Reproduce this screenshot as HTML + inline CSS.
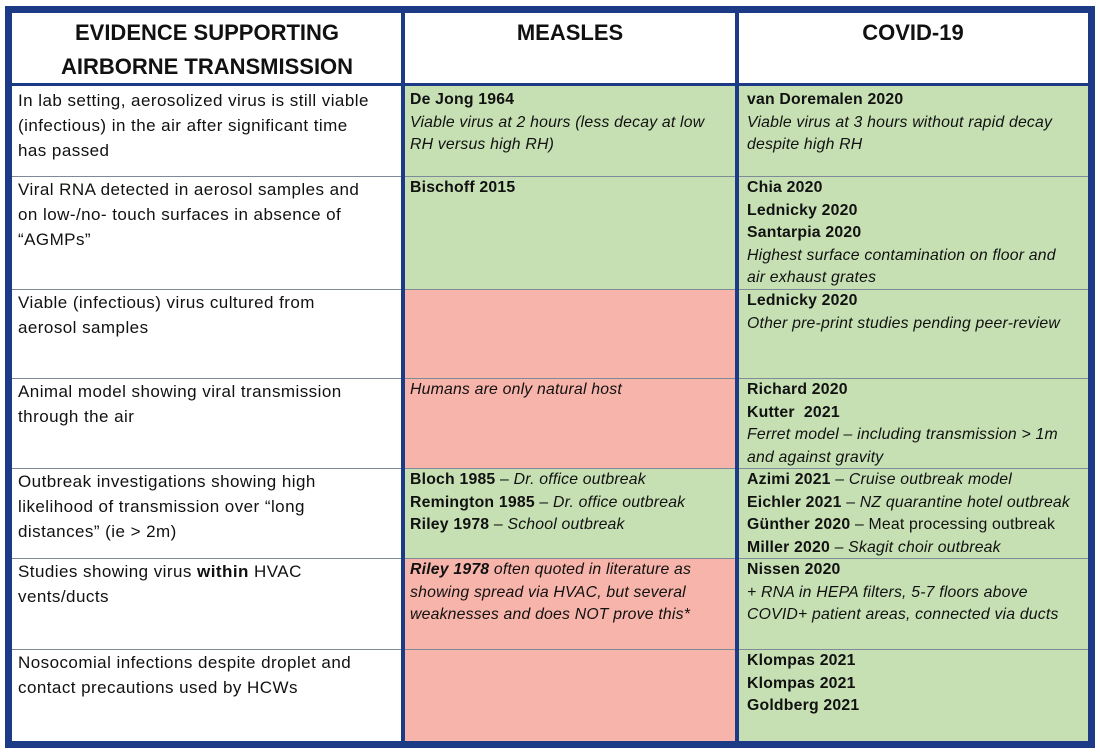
<!DOCTYPE html>
<html><head><meta charset="utf-8"><style>
html,body{margin:0;padding:0;background:#fff;}
body{width:1100px;height:754px;position:relative;overflow:hidden;font-family:"Liberation Sans",sans-serif;color:#111;}
.frame{position:absolute;left:5px;top:6px;width:1090px;height:742px;background:#1c3a86;}
.inner{position:absolute;left:12px;top:13px;width:1076px;height:728px;background:#fff;}
.cell{position:absolute;box-sizing:border-box;font-size:15.8px;letter-spacing:0.2px;line-height:22.5px;white-space:nowrap;padding:0 6px;}
.g{background:#c6e0b4;}
.r{background:#f7b4aa;}
.hd{position:absolute;font-weight:bold;font-size:22px;line-height:34px;text-align:center;white-space:nowrap;}
.vl{position:absolute;width:4px;background:#1c3a86;}
.hl{position:absolute;height:1px;background:#7f8a99;left:12px;width:1076px;}
i{font-style:italic;} b{font-weight:bold;}
.c1{font-size:17px;letter-spacing:0.45px;line-height:25px;}
</style></head><body>
<div class="frame"></div>
<div class="inner"></div>

<div class="hd" style="left:12px;top:16px;width:390px;">EVIDENCE SUPPORTING<br>AIRBORNE TRANSMISSION</div>
<div class="hd" style="left:404px;top:16px;width:332px;">MEASLES</div>
<div class="hd" style="left:738px;top:16px;width:350px;">COVID-19</div>
<div style="position:absolute;left:12px;top:83px;width:1076px;height:3px;background:#1c3a86;"></div>

<!-- Row 1 -->
<div class="cell c1" style="left:12px;top:87px;width:390px;height:89px;padding-top:1px;">In lab setting, aerosolized virus is still viable<br>(infectious) in the air after significant time<br>has passed</div>
<div class="cell g" style="left:404px;top:86px;width:332px;height:90px;padding-top:3px;"><b>De Jong 1964</b><br><i>Viable virus at 2 hours (less decay at low<br>RH versus high RH)</i></div>
<div class="cell g" style="left:738px;top:86px;width:350px;height:90px;padding-top:3px;padding-left:9px;"><b>van Doremalen 2020</b><br><i>Viable virus at 3 hours without rapid decay<br>despite high RH</i></div>
<div class="hl" style="top:176px;"></div>

<!-- Row 2 -->
<div class="cell c1" style="left:12px;top:177px;width:390px;height:112px;">Viral RNA detected in aerosol samples and<br>on low-/no- touch surfaces in absence of<br>“AGMPs”</div>
<div class="cell g" style="left:404px;top:177px;width:332px;height:112px;"><b>Bischoff 2015</b></div>
<div class="cell g" style="left:738px;top:177px;width:350px;height:112px;padding-left:9px;"><b>Chia 2020<br>Lednicky 2020<br>Santarpia 2020</b><br><i>Highest surface contamination on floor and<br>air exhaust grates</i></div>
<div class="hl" style="top:289px;"></div>

<!-- Row 3 -->
<div class="cell c1" style="left:12px;top:290px;width:390px;height:88px;">Viable (infectious) virus cultured from<br>aerosol samples</div>
<div class="cell r" style="left:404px;top:290px;width:332px;height:88px;"></div>
<div class="cell g" style="left:738px;top:290px;width:350px;height:88px;padding-left:9px;"><b>Lednicky 2020</b><br><i>Other pre-print studies pending peer-review</i></div>
<div class="hl" style="top:378px;"></div>

<!-- Row 4 -->
<div class="cell c1" style="left:12px;top:379px;width:390px;height:89px;">Animal model showing viral transmission<br>through the air</div>
<div class="cell r" style="left:404px;top:379px;width:332px;height:89px;"><i>Humans are only natural host</i></div>
<div class="cell g" style="left:738px;top:379px;width:350px;height:89px;padding-left:9px;"><b>Richard 2020<br>Kutter&nbsp; 2021</b><br><i>Ferret model – including transmission &gt; 1m<br>and against gravity</i></div>
<div class="hl" style="top:468px;"></div>

<!-- Row 5 -->
<div class="cell c1" style="left:12px;top:469px;width:390px;height:89px;">Outbreak investigations showing high<br>likelihood of transmission over “long<br>distances” (ie &gt; 2m)</div>
<div class="cell g" style="left:404px;top:469px;width:332px;height:89px;"><b>Bloch 1985</b> – <i>Dr. office outbreak</i><br><b>Remington 1985</b> – <i>Dr. office outbreak</i><br><b>Riley 1978</b> – <i>School outbreak</i></div>
<div class="cell g" style="left:738px;top:469px;width:350px;height:89px;padding-left:9px;"><b>Azimi 2021</b> – <i>Cruise outbreak model</i><br><b>Eichler 2021</b> – <i>NZ quarantine hotel outbreak</i><br><b>Günther 2020</b> – Meat processing outbreak<br><b>Miller 2020</b> – <i>Skagit choir outbreak</i></div>
<div class="hl" style="top:558px;"></div>

<!-- Row 6 -->
<div class="cell c1" style="left:12px;top:559px;width:390px;height:90px;">Studies showing virus <b>within</b> HVAC<br>vents/ducts</div>
<div class="cell r" style="left:404px;top:559px;width:332px;height:90px;"><i><b>Riley 1978</b> often quoted in literature as<br>showing spread via HVAC, but several<br>weaknesses and does NOT prove this*</i></div>
<div class="cell g" style="left:738px;top:559px;width:350px;height:90px;padding-left:9px;"><b>Nissen 2020</b><br><i>+ RNA in HEPA filters, 5-7 floors above<br>COVID+ patient areas, connected via ducts</i></div>
<div class="hl" style="top:649px;"></div>

<!-- Row 7 -->
<div class="cell c1" style="left:12px;top:650px;width:390px;height:91px;">Nosocomial infections despite droplet and<br>contact precautions used by HCWs</div>
<div class="cell r" style="left:404px;top:650px;width:332px;height:91px;"></div>
<div class="cell g" style="left:738px;top:650px;width:350px;height:91px;padding-left:9px;"><b>Klompas 2021<br>Klompas 2021<br>Goldberg 2021</b></div>

<div class="vl" style="left:401px;top:13px;height:728px;"></div>
<div class="vl" style="left:735px;top:13px;height:728px;"></div>
</body></html>
